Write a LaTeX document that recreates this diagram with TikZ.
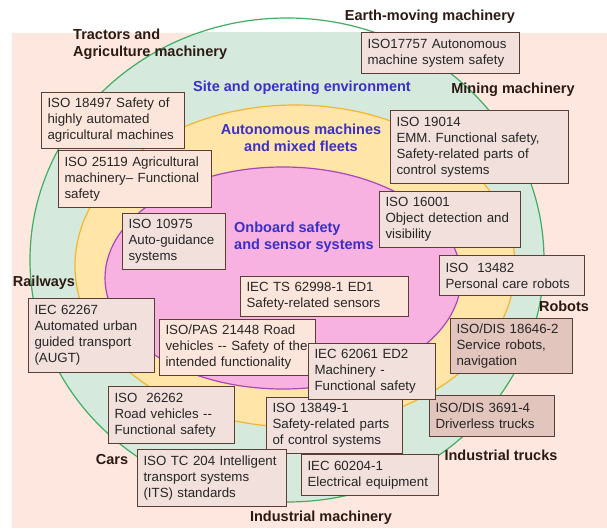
\documentclass[tikz,border=0pt]{standalone}
\usepackage{fontspec}
\setmainfont{Liberation Sans}
\definecolor{bgfill}{HTML}{FDE7DE}
\definecolor{sitefill}{HTML}{D6E9DD}
\definecolor{siteline}{HTML}{3FAE62}
\definecolor{fleetfill}{HTML}{FFE5A8}
\definecolor{fleetline}{HTML}{F4B630}
\definecolor{boardfill}{HTML}{F7B2E2}
\definecolor{boardline}{HTML}{A848B8}
\definecolor{stdline}{HTML}{5A3E36}
\definecolor{stdfill}{HTML}{F1E0DB}
\definecolor{peachfill}{HTML}{FCE5DA}
\definecolor{darkfill}{HTML}{E2C5BC}
\definecolor{zonetext}{HTML}{3B30C6}
\definecolor{labtext}{HTML}{2B1A12}

\begin{document}
\begin{tikzpicture}[x=1pt,y=-1pt]
        \tikzstyle{std}=[draw=stdline, fill=stdfill, line width=1pt, anchor=north west, align=left, inner xsep=6pt, inner ysep=0pt, text=black!85, font=\fontsize{13.3}{16}\selectfont]
        \tikzstyle{peach}=[std, fill=peachfill]
        \tikzstyle{dark}=[std, fill=darkfill]
        \tikzstyle{lab}=[inner sep=0pt, text=labtext, font=\fontsize{14.5}{17}\selectfont\bfseries]
        \tikzstyle{zone}=[lab, text=zonetext]
        \useasboundingbox (0,0) rectangle (607,529);
        \fill [white] (0,0) rectangle (607,529);
        \fill [bgfill] (12,33) rectangle (607,528);
        \begin{scope}
        \clip (12,33) rectangle (607,528);
        \fill [sitefill] (287,260) ellipse [x radius=257pt, y radius=242pt];
        \end{scope}
        \draw [siteline, line width=1.2pt] (287,260) ellipse [x radius=257pt, y radius=242pt];
        \draw [fleetline, fill=fleetfill, line width=1.2pt] (295,266) ellipse [x radius=220pt, y radius=161pt];
        \draw [boardline, fill=boardfill, line width=1.2pt] (283,278) ellipse [x radius=178pt, y radius=111pt];
        \draw (430,17) node [lab] (earth) {Earth-moving machinery};
        \draw (73,44.5) node [lab, anchor=west, align=left] (tractors) {Tractors and\\Agriculture machinery};
        \draw (513,90) node [lab] (mining) {Mining machinery};
        \draw (44,283) node [lab] (railways) {Railways};
        \draw (564,306) node [lab] (robots) {Robots};
        \draw (112,460) node [lab] (cars) {Cars};
        \draw (501,455) node [lab] (trucks) {Industrial trucks};
        \draw (321,518) node [lab] (machinery) {Industrial machinery};
        \draw (302,88) node [zone] (site) {Site and operating environment};
        \draw (301,138) node [zone, align=center] (fleets) {Autonomous machines\\and mixed fleets};
        \draw (234,237) node [zone, anchor=west, align=left] (onboard) {Onboard safety\\and sensor systems};
        \draw (361,32) node [std, text width=146pt, minimum height=41pt] (iso17757) {ISO17757 Autonomous\\machine system safety};
        \draw (41,92) node [peach, text width=131pt, minimum height=56pt] (iso18497) {ISO 18497 Safety of\\highly automated\\agricultural machines};
        \draw (390,110) node [std, text width=166pt, minimum height=73pt] (iso19014) {ISO 19014\\EMM. Functional safety,\\Safety-related parts of\\control systems};
        \draw (58,150) node [peach, text width=141pt, minimum height=57pt] (iso25119) {ISO 25119 Agricultural\\machinery-- Functional\\safety};
        \draw (122,213) node [std, text width=91pt, minimum height=56pt] (iso10975) {ISO 10975\\Auto-guidance\\systems};
        \draw (379,191) node [std, text width=129pt, minimum height=56pt] (iso16001) {ISO 16001\\Object detection and\\visibility};
        \draw (439,255) node [std, text width=133pt, minimum height=40pt] (iso13482) {ISO\ \ 13482\\Personal care robots};
        \draw (240,276) node [peach, text width=156pt, minimum height=40pt] (iec62998) {IEC TS 62998-1 ED1\\Safety-related sensors};
        \draw (28,298) node [std, text width=114pt, minimum height=74pt] (iec62267) {IEC 62267\\Automated urban\\guided transport\\(AUGT)};
        \draw (450,318) node [dark, text width=110pt, minimum height=55pt] (iso18646) {ISO/DIS 18646-2\\Service robots,\\navigation};
        \draw (108,386) node [std, text width=114pt, minimum height=57pt] (iso26262) {ISO\ \ 26262\\Road vehicles -{}-\\Functional safety};
        \draw (429,395) node [dark, text width=113pt, minimum height=41pt] (iso3691) {ISO/DIS 3691-4\\Driverless trucks};
        \draw (266,397) node [std, text width=124pt, minimum height=56pt] (iso13849) {ISO 13849-1\\Safety-related parts\\of control systems};
        \draw (137,449) node [std, text width=137pt, minimum height=57pt] (isotc204) {ISO TC 204 Intelligent\\transport systems\\(ITS) standards};
        \draw (301,454) node [std, text width=125pt, minimum height=41pt] (iec60204) {IEC 60204-1\\Electrical equipment};
        \draw (159,319) node [peach, text width=144pt, minimum height=56pt] (iso21448) {ISO/PAS 21448 Road\\vehicles -{}- Safety of the\\intended functionality};
        \draw (308,343) node [std, text width=115pt, minimum height=56pt] (iec62061) {IEC 62061 ED2\\Machinery -\\Functional safety};
\end{tikzpicture}
\end{document}
